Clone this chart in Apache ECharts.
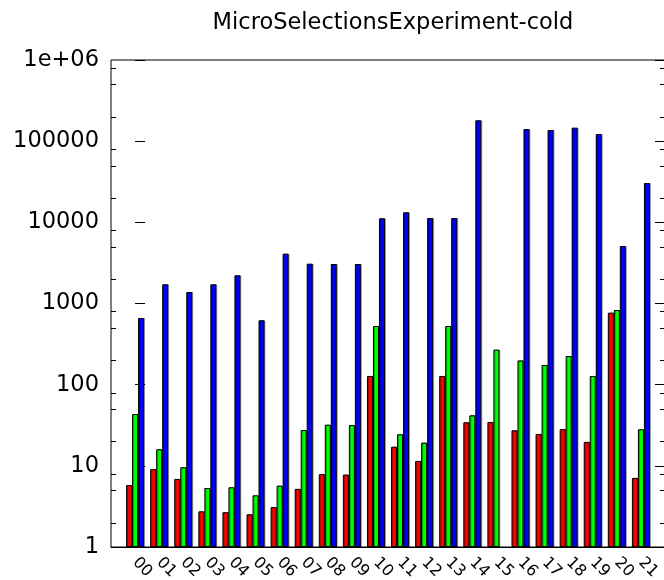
<!DOCTYPE html>
<html>
<head>
<meta charset="utf-8">
<script src="https://cdn.jsdelivr.net/npm/echarts@6/dist/echarts.min.js"></script>
<style>
html,body{margin:0;padding:0;background:#fff;}
#chart{width:664px;height:580px;}
</style>
</head>
<body>
<div id="chart"></div>
<script>
const title = 'MicroSelectionsExperiment-cold';
const categories = ['00','01','02','03','04','05','06','07','08','09','10','11','12','13','14','15','16','17','18','19','20','21'];
const redValues = [5.8, 9.1, 6.9, 2.75, 2.68, 2.53, 3.1, 5.2, 7.9, 7.8, 128, 17.2, 11.5, 128, 34.4, 34.7, 27.4, 24.7, 28.4, 19.7, 771, 7.1];
const greenValues = [43.5, 16, 9.6, 5.33, 5.44, 4.33, 5.7, 27.6, 32.1, 31.8, 528, 24.5, 19.3, 528, 41.9, 270, 199, 175, 225, 128, 831, 28.2];
const blueValues = [663, 1723, 1386, 1723, 2224, 621, 4110, 3092, 3067, 3067, 11210, 13280, 11300, 11300, 180700, null, 141200, 137200, 146600, 122500, 5108, 30500];
const yMin = 1, yMax = 1e6;
const minorMultipliers = [2, 5, 8];

const FONT = 'DejaVu Sans';
const minorTickValues = [];
for (let d = 1; d < yMax; d *= 10) {
  minorMultipliers.forEach(m => minorTickValues.push(m * d));
}

function toPairs(arr) {
  return arr.map((v, i) => [i, v == null ? '-' : v]);
}

const chart = echarts.init(document.getElementById('chart'), null, {renderer: 'canvas'});

const barStyle = (color) => ({
  color: color,
  borderColor: '#000',
  borderWidth: 1,
  shadowColor: 'rgba(0,0,0,0.3)',
  shadowOffsetX: 1,
  shadowOffsetY: 0,
  shadowBlur: 0
});

const yMajorCommon = {
  type: 'log',
  logBase: 10,
  min: yMin,
  max: yMax,
  splitLine: {show: false},
  minorTick: {show: false},
  axisLine: {show: false},
  axisTick: {show: true, inside: true, length: 10, lineStyle: {color: '#000', width: 1}}
};

chart.setOption({
  animation: false,
  backgroundColor: '#fff',
  title: {
    text: title,
    left: 388,
    top: 7,
    textAlign: 'center',
    textStyle: {fontFamily: FONT, fontSize: 22.5, fontWeight: 'normal', color: '#000'}
  },
  grid: {
    left: 111, top: 60, width: 554, height: 487,
    containLabel: false,
    outerBoundsMode: 'none',
    show: true, borderColor: '#000', borderWidth: 1, backgroundColor: 'transparent'
  },
  xAxis: {
    type: 'value',
    min: -1,
    max: 22,
    interval: 1,
    splitLine: {show: false},
    axisLine: {show: true, lineStyle: {color: '#000'}},
    axisTick: {show: false},
    axisLabel: {
      rotate: -45,
      margin: 13,
      fontFamily: FONT,
      fontSize: 16,
      color: '#000',
      hideOverlap: false,
      formatter: (v) => (v >= 0 && v < categories.length && Number.isInteger(v)) ? categories[v] : ''
    }
  },
  yAxis: [
    Object.assign({}, yMajorCommon, {
      position: 'left',
      axisLabel: {
        show: true,
        margin: 12,
        fontFamily: FONT,
        fontSize: 22.5,
        color: '#000',
        formatter: (v) => v >= 1e6 ? '1e+06' : String(Math.round(v))
      }
    }),
    Object.assign({}, yMajorCommon, {position: 'right', axisLabel: {show: false}})
  ],
  series: [
    {type: 'bar', name: 'red', data: toPairs(redValues), barWidth: 6, barGap: '0%', itemStyle: barStyle('#ff0000'), yAxisIndex: 0},
    {type: 'bar', name: 'green', data: toPairs(greenValues), barWidth: 6, barGap: '0%', itemStyle: barStyle('#00ff00'), yAxisIndex: 0},
    {type: 'bar', name: 'blue', data: toPairs(blueValues), barWidth: 6, barGap: '0%', itemStyle: barStyle('#0000ff'), yAxisIndex: 0},
    {
      type: 'custom',
      name: 'minorTicks',
      silent: true,
      clip: false,
      yAxisIndex: 0,
      encode: {x: 0, y: 1},
      data: minorTickValues.map(v => [0, v]),
      renderItem: function (params, api) {
        const cs = params.coordSys;
        const y = Math.round(api.coord([0, api.value(1)])[1]) + 0.5;
        const xl = cs.x, xr = cs.x + cs.width;
        const style = {stroke: '#000', lineWidth: 1};
        return {
          type: 'group',
          children: [
            {type: 'line', shape: {x1: xl, y1: y, x2: xl + 5, y2: y}, style: style},
            {type: 'line', shape: {x1: xr - 5, y1: y, x2: xr, y2: y}, style: style}
          ]
        };
      }
    }
  ]
});
</script>
</body>
</html>
